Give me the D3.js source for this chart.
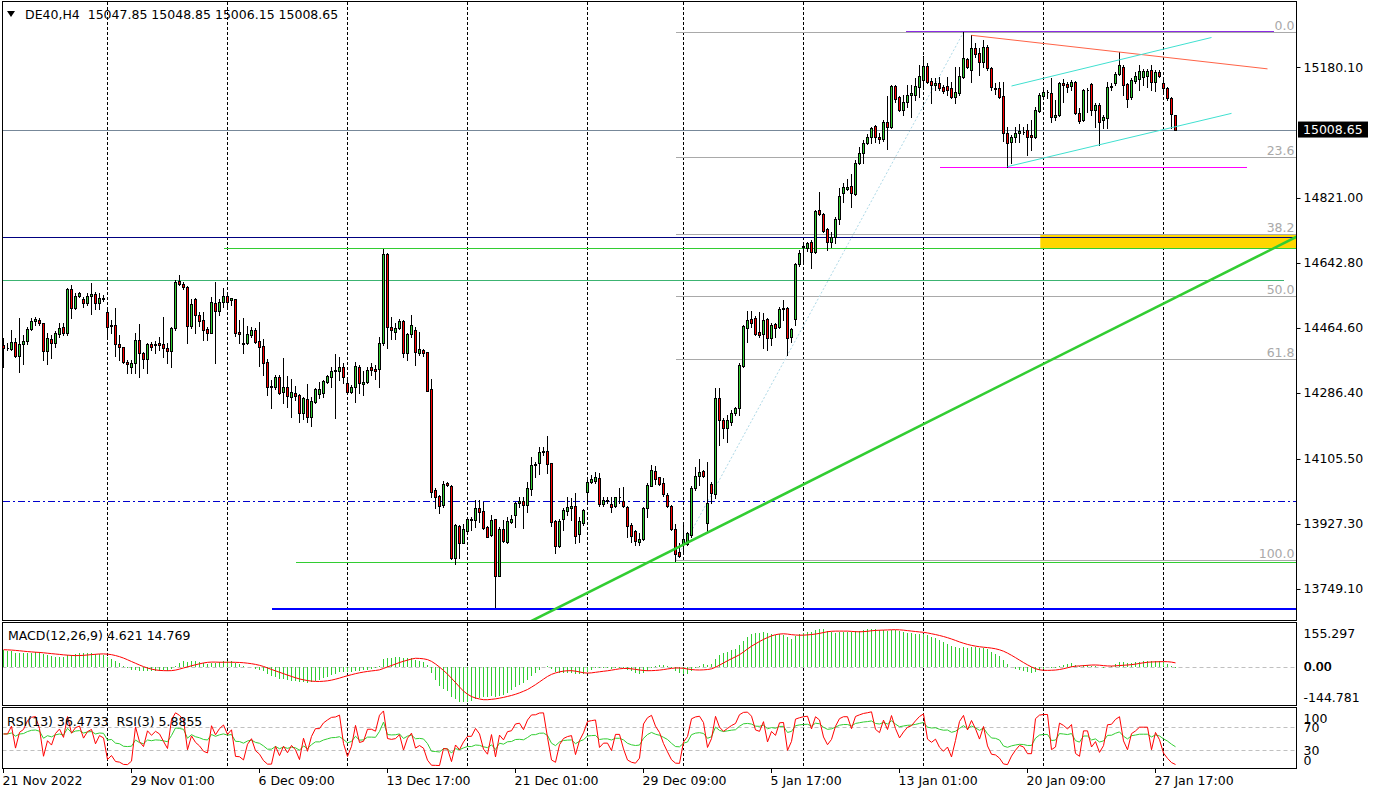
<!DOCTYPE html>
<html><head><meta charset="utf-8">
<script src="https://cdn.jsdelivr.net/npm/d3@7"></script>
<style>
body{margin:0;background:#fff;overflow:hidden}
svg{display:block}
text{font-family:"DejaVu Sans",sans-serif;font-size:12.5px;white-space:pre}
</style></head>
<body><svg id="c" width="1376" height="795"></svg>
<script>
// ---------------- DATA (DE40, H4) ----------------
const opens = [14418,14410,14407,14426,14388,14421,14429,14462,14484,14487,14478,14401,14434,14423,14448,14467,14451,14571,14519,14552,14544,14533,14552,14558,14533,14547,14508,14470,14473,14421,14412,14371,14358,14369,14432,14396,14380,14421,14418,14423,14421,14410,14401,14464,14593,14585,14577,14470,14544,14500,14487,14462,14451,14533,14511,14536,14552,14541,14544,14454,14423,14423,14445,14459,14429,14415,14371,14306,14303,14330,14289,14303,14276,14286,14281,14232,14270,14221,14262,14284,14286,14317,14330,14347,14347,14358,14314,14289,14303,14358,14311,14317,14358,14352,14352,14423,14667,14467,14454,14464,14484,14396,14448,14459,14396,14404,14399,14297,14020,14004,13979,14040,14032,13834,13922,13875,13908,13938,13938,13971,13963,13919,13897,13941,13785,13913,13878,13933,13952,13985,13990,13979,14023,14089,14094,14125,14127,14094,13936,13867,13941,13963,13971,13977,13900,13930,14015,14043,14045,14053,13982,13990,13982,13977,14001,13990,13974,13925,13908,13878,13886,13971,14032,14072,14056,14040,14007,13977,13913,13850,13872,13872,13897,14026,14059,14072,13930,14037,14010,14273,14212,14190,14207,14232,14245,14360,14464,14489,14492,14454,14448,14489,14437,14476,14467,14517,14519,14440,14489,14640,14687,14684,14700,14673,14788,14777,14736,14700,14714,14763,14835,14845,14854,14832,14917,14944,14972,14988,15018,14988,14983,15029,15015,15128,15098,15062,15084,15103,15103,15125,15144,15183,15142,15131,15136,15125,15128,15122,15098,15109,15153,15202,15172,15232,15218,15194,15235,15177,15122,15122,15101,14998,14974,14988,14999,15002,15007,14994,14988,15060,15101,15112,15109,15043,15048,15136,15133,15128,15139,15054,15035,15117,15133,15062,15076,15035,15040,15125,15136,15161,15180,15133,15098,15142,15147,15153,15155,15172,15139,15166,15136,15122,15095,15047.85];
const highs = [14437,14423,14459,14437,14492,14445,14467,14492,14495,14492,14478,14451,14445,14456,14478,14478,14574,14582,14561,14563,14549,14561,14588,14563,14561,14555,14519,14487,14519,14445,14412,14377,14377,14451,14476,14399,14423,14426,14429,14440,14495,14423,14467,14596,14610,14591,14580,14544,14547,14508,14508,14467,14549,14591,14544,14574,14555,14547,14544,14487,14492,14470,14467,14464,14481,14434,14380,14322,14336,14336,14382,14333,14325,14306,14284,14276,14311,14276,14300,14317,14322,14336,14358,14393,14385,14369,14322,14308,14371,14363,14347,14358,14369,14363,14440,14681,14670,14495,14478,14489,14487,14451,14500,14467,14454,14407,14399,14325,14026,14007,14045,14043,14034,13927,13925,13927,13946,13946,13993,13993,13988,13922,13952,13941,13919,13938,13946,13952,13988,14001,14001,14043,14111,14097,14138,14138,14168,14094,13938,13941,13971,14001,13998,14012,13946,13968,14056,14062,14070,14067,14001,14001,14001,14001,14026,14029,13977,13930,13911,13902,13974,14040,14089,14086,14056,14053,14012,13979,13927,13875,13925,13905,14032,14083,14105,14075,14097,14043,14300,14300,14218,14226,14240,14248,14369,14473,14511,14511,14497,14508,14506,14492,14478,14478,14522,14541,14522,14464,14643,14678,14697,14700,14706,14788,14837,14780,14739,14728,14769,14848,14862,14873,14887,14925,14961,14980,14996,15015,15021,14999,15035,15101,15131,15131,15101,15103,15131,15131,15150,15186,15210,15191,15150,15150,15153,15131,15153,15139,15180,15180,15276,15205,15268,15246,15232,15254,15240,15180,15136,15139,15139,15015,14994,15015,15024,15015,15024,15035,15070,15109,15122,15117,15150,15090,15139,15147,15139,15144,15142,15068,15120,15122,15136,15081,15081,15048,15139,15136,15166,15221,15186,15136,15150,15166,15186,15175,15175,15186,15172,15172,15150,15125,15098,15048.85];
const lows = [14358,14404,14404,14385,14344,14366,14421,14459,14473,14473,14377,14366,14382,14412,14440,14445,14445,14492,14517,14549,14522,14528,14503,14517,14517,14539,14440,14451,14388,14377,14369,14341,14341,14341,14330,14355,14341,14404,14396,14404,14385,14369,14358,14459,14582,14571,14423,14464,14451,14470,14432,14432,14451,14369,14500,14522,14522,14528,14443,14423,14396,14421,14440,14423,14360,14336,14281,14245,14297,14284,14259,14248,14221,14267,14207,14215,14207,14196,14259,14273,14276,14314,14303,14218,14322,14314,14286,14286,14262,14286,14281,14314,14336,14325,14303,14418,14410,14434,14434,14462,14385,14377,14440,14363,14391,14388,14292,14001,13971,13957,13974,14032,13831,13818,13834,13875,13902,13911,13919,13933,13913,13891,13894,13700,13785,13878,13875,13930,13919,13974,13916,13960,14007,14056,14064,14116,14067,13922,13848,13864,13911,13952,13938,13875,13878,13925,13988,14040,14040,13977,13977,13985,13960,13974,13985,13974,13891,13878,13870,13870,13883,13946,14032,14037,14034,14004,13974,13911,13826,13837,13850,13870,13891,14020,14034,14056,13905,13985,13998,14144,14163,14152,14199,14226,14226,14358,14426,14467,14445,14440,14410,14404,14418,14440,14464,14487,14391,14426,14473,14634,14646,14676,14629,14670,14775,14728,14678,14687,14698,14750,14810,14843,14796,14829,14914,14917,14969,14972,14974,14972,14977,14955,15013,15084,15060,15048,15070,15043,15090,15098,15125,15136,15081,15117,15117,15109,15103,15095,15081,15103,15150,15177,15139,15207,15158,15180,15172,15117,15106,15095,14977,14906,14917,14974,14974,14996,14939,14953,14985,15057,15098,15095,15029,15035,15046,15084,15112,15117,15051,15027,15032,15057,15048,15016,14966,15013,15013,15117,15131,15158,15103,15070,15092,15136,15117,15131,15125,15117,15114,15153,15112,15090,15013,15006.15];
const closes = [14410,14410,14426,14388,14421,14429,14462,14484,14489,14478,14401,14437,14423,14451,14464,14451,14571,14519,14552,14561,14533,14552,14558,14533,14547,14544,14467,14473,14421,14412,14371,14366,14369,14432,14396,14380,14421,14412,14421,14418,14410,14401,14464,14591,14585,14577,14470,14530,14500,14484,14459,14451,14536,14511,14536,14552,14536,14547,14451,14448,14421,14448,14459,14426,14412,14369,14303,14303,14330,14286,14303,14278,14289,14278,14232,14273,14221,14264,14297,14297,14319,14333,14347,14349,14358,14330,14289,14303,14360,14314,14317,14349,14349,14347,14423,14667,14467,14459,14464,14484,14396,14448,14473,14399,14407,14396,14292,14015,14001,13977,14037,14034,13834,13925,13875,13913,13941,13941,13971,13960,13916,13891,13938,13785,13913,13881,13935,13941,13985,13990,13979,14026,14089,14092,14124,14127,14092,13933,13867,13936,13966,13974,13977,13894,13936,13966,14043,14051,14056,13982,13993,13993,13974,14001,14001,13977,13922,13894,13881,13886,13971,14034,14075,14051,14037,14009,13977,13913,13845,13839,13886,13902,14026,14059,14070,14059,13985,14012,14273,14212,14190,14212,14232,14245,14363,14470,14487,14478,14448,14445,14487,14437,14473,14464,14517,14519,14437,14462,14640,14670,14689,14697,14673,14785,14777,14730,14700,14714,14763,14826,14851,14851,14835,14917,14944,14972,14988,15013,14988,14983,15029,15015,15128,15092,15062,15084,15103,15109,15128,15155,15183,15139,15131,15136,15122,15114,15117,15098,15112,15155,15205,15180,15232,15216,15194,15235,15177,15125,15120,15098,14998,14972,14988,14998,15005,15002,14988,14988,15062,15103,15112,15112,15043,15048,15136,15131,15125,15139,15054,15032,15117,15117,15062,15076,15029,15043,15125,15128,15161,15186,15131,15092,15144,15155,15169,15169,15169,15139,15166,15155,15122,15095,15051,15008.65];

// time axis (bar index -> label) and weekly separators
const timeTickBars   = [0, 32, 64, 96, 128, 160, 192, 224, 256, 288];
const timeTickLabels = ["21 Nov 2022","29 Nov 01:00","6 Dec 09:00","13 Dec 17:00","21 Dec 01:00","29 Dec 09:00","5 Jan 17:00","13 Jan 01:00","20 Jan 09:00","27 Jan 17:00"];
const separatorBars  = [26, 56, 86, 116, 146, 170, 200, 230, 260, 290];
const priceTicks     = [15180.10, 14821.00, 14642.80, 14464.60, 14286.40, 14105.50, 13927.30, 13749.10];
const macdTicks      = [155.297, 0, -144.781];
const rsiTicks       = [100, 70, 30, 0];
const rsiLevels      = [70, 30];

// indicator state at the first visible bar
const macdWarmup = {ema12: 14380, ema26: 14316, signal: 64};
const rsiWarmup  = {gain: 22, loss: 16};

// chart objects
const fibHigh   = {bar: 240, price: 15275.3};
const fibLow    = {bar: 168, price: 13827.5};
const fibLevels = [0, 23.6, 38.2, 50, 61.8, 100];
const hLevels = [
  {name:"navy",     price:14713,  from:null, to:null, color:"#000080", w:1},
  {name:"lime1",    price:14684,  from:55,   to:null, color:"#32CD32", w:1},
  {name:"seagreen", price:14596,  from:null, to:320,  color:"#3CB371", w:1},
  {name:"lime2",    price:13822,  from:73,   to:null, color:"#32CD32", w:1},
  {name:"blue",     price:13697,  from:67,   to:null, color:"#0000FF", w:2},
  {name:"dashdot",  price:13990,  from:null, to:null, color:"#0000CD", w:1, dash:"7,3,2,3"},
  {name:"magenta",  price:14906,  from:234.2,to:310.9,color:"#FF00FF", w:1},
  {name:"purple",   price:15279,  from:225.5,to:317.5,color:"#8A2BE2", w:1}
];
const yellowZone = {fromBar: 259.2, top: 14722, bottom: 14684};
const trendLines = [
  {pts:[{bar:133, price:13667},{bar:293, price:14548}], color:"#32CD32", w:2.6, extend:true},
  {pts:[{bar:242, price:15267},{bar:316, price:15175}], color:"#FF6347", w:1},
  {pts:[{bar:252, price:15128},{bar:302, price:15261}], color:"#40E0D0", w:1},
  {pts:[{bar:251, price:14907},{bar:307, price:15053}], color:"#40E0D0", w:1}
];
const header = {symbol:"DE40,H4", values:["15047.85","15048.85","15006.15","15008.65"]};
const macdTitle = "MACD(12,26,9) 4.621 14.769";
const rsiTitle  = "RSI(13) 36.4733  RSI(3) 5.8855";

// ---------------- LAYOUT ----------------
const L = 2.5, R = 1296.5;
const P = {main:{top:1.5,bottom:620.5}, macd:{top:622.5,bottom:705.5}, rsi:{top:707.5,bottom:768.5}};
const N = closes.length;
const x = d3.scaleLinear().domain([0, N-1]).range([3.5, 3.5 + 4*(N-1)]);
const yMain = d3.scaleLinear().domain([13754.5, 15180.1]).range([587, 67]);
const yMacd = d3.scaleLinear().domain([-144.781, 155.297]).range([706, 625]);
const yRsi  = d3.scaleLinear().domain([0, 100]).range([767.25, 709.75]);
const fmt2 = d3.format(".2f"), fmt3 = d3.format(".3f");
const ascii = s => s.replace("\u2212","-");

const svg = d3.select("#c");
const defs = svg.append("defs");
Object.entries(P).forEach(([k,p])=>{
  defs.append("clipPath").attr("id","clip-"+k).append("rect")
    .attr("x",L).attr("y",p.top).attr("width",R-L).attr("height",p.bottom-p.top);
});
svg.append("rect").attr("width",1376).attr("height",795).attr("fill","#fff");

// separators
Object.entries(P).forEach(([k,p])=>{
  svg.append("g").attr("clip-path",`url(#clip-${k})`).selectAll("line").data(separatorBars).join("line")
    .attr("x1",d=>x(d)).attr("x2",d=>x(d)).attr("y1",p.top).attr("y2",p.bottom)
    .attr("stroke","#000").attr("stroke-dasharray","3,2").attr("shape-rendering","crispEdges");
});

const gMain = svg.append("g").attr("clip-path","url(#clip-main)");

// yellow zone
gMain.append("rect").attr("x",x(yellowZone.fromBar)).attr("y",yMain(yellowZone.top))
  .attr("width",R - x(yellowZone.fromBar)).attr("height",yMain(yellowZone.bottom)-yMain(yellowZone.top))
  .attr("fill","#FFD700");

// fibonacci
const fibPrice = l => fibHigh.price - (fibHigh.price - fibLow.price)*l/100;
const fy = l => Math.round(yMain(fibPrice(l)))+0.5;
gMain.selectAll(".fib").data(fibLevels).join("line").attr("class","fib")
  .attr("x1",x(fibLow.bar)).attr("x2",R).attr("y1",fy).attr("y2",fy)
  .attr("stroke","#A9A9A9").attr("shape-rendering","crispEdges");
gMain.selectAll(".fibt").data(fibLevels).join("text").attr("class","fibt")
  .attr("x",R-2).attr("y",d=>fy(d)-3).attr("text-anchor","end").attr("fill","#A9A9A9")
  .text(d=>d.toFixed(1));
gMain.append("line").attr("x1",x(fibLow.bar)).attr("y1",yMain(fibLow.price))
  .attr("x2",x(fibHigh.bar)).attr("y2",yMain(fibHigh.price))
  .attr("stroke","#ADD8E6").attr("stroke-dasharray","2,2");

// horizontal levels
const hy = p => Math.round(yMain(p))+0.5;
gMain.selectAll(".hl").data(hLevels).join("line").attr("class","hl")
  .attr("x1",d=>d.from==null?L:x(d.from)).attr("x2",d=>d.to==null?R:x(d.to))
  .attr("y1",d=>hy(d.price)).attr("y2",d=>hy(d.price))
  .attr("stroke",d=>d.color).attr("stroke-width",d=>d.w)
  .attr("stroke-dasharray",d=>d.dash||null).attr("shape-rendering","crispEdges");

// current price line
const last = closes[N-1];
gMain.append("line").attr("x1",L).attr("x2",R).attr("y1",hy(last)).attr("y2",hy(last))
  .attr("stroke","#778899").attr("shape-rendering","crispEdges");

// candles
const cg = gMain.append("g").attr("shape-rendering","crispEdges");
const idx = d3.range(N);
cg.selectAll(".wick").data(idx).join("line").attr("class","wick")
  .attr("x1",i=>x(i)).attr("x2",i=>x(i))
  .attr("y1",i=>Math.round(yMain(highs[i]))).attr("y2",i=>Math.round(yMain(lows[i]))+1)
  .attr("stroke","#000");
cg.selectAll(".body").data(idx).join("path").attr("class","body")
  .attr("d",i=>{
    const a = Math.round(yMain(Math.max(opens[i],closes[i])))+0.5;
    const b = Math.round(yMain(Math.min(opens[i],closes[i])))+0.5;
    const x0 = x(i)-1, x1 = x(i)+1;
    return `M${x0},${a}H${x1}V${b}H${x0}Z`;
  })
  .attr("fill",i=>closes[i]>=opens[i]?"#32CD32":"#FF0000")
  .attr("stroke","#000");

// trend lines
trendLines.forEach(t=>{
  let [p0,p1] = t.pts;
  let x0 = x(p0.bar), y0 = yMain(p0.price), x1 = x(p1.bar), y1 = yMain(p1.price);
  if (t.extend){
    const s = (y1-y0)/(x1-x0);
    const xs = x0 - 60, xe = R + 2;
    y0 = y0 + s*(xs-x0); x0 = xs;
    y1 = y0 + s*(xe-x0); x1 = xe;
  }
  gMain.append("line").attr("x1",x0).attr("y1",y0).attr("x2",x1).attr("y2",y1)
    .attr("stroke",t.color).attr("stroke-width",t.w);
});

// ---------------- INDICATORS ----------------
const k12 = 2/13, k26 = 2/27;
let e12 = macdWarmup.ema12, e26 = macdWarmup.ema26;
const macd = closes.map(c=>{ e12 += k12*(c-e12); e26 += k26*(c-e26); return e12-e26; });
const macdHist = d3.range(8).map(()=>macdWarmup.signal).concat(macd);
const signal = macd.map((v,i)=>d3.mean(macdHist.slice(i, i+9)));

function rsi(n){
  let g = rsiWarmup.gain, l = rsiWarmup.loss;
  return closes.map((c,i)=>{
    const ch = i===0 ? 0 : c - closes[i-1];
    g = (g*(n-1) + Math.max(ch,0))/n;
    l = (l*(n-1) + Math.max(-ch,0))/n;
    return l===0 ? 100 : 100 - 100/(1+g/l);
  });
}
const rsi13 = rsi(13), rsi3 = rsi(3);

// MACD panel
const gM = svg.append("g").attr("clip-path","url(#clip-macd)");
gM.append("line").attr("x1",L).attr("x2",R).attr("y1",Math.round(yMacd(0))+0.5).attr("y2",Math.round(yMacd(0))+0.5)
  .attr("stroke","#C0C0C0").attr("stroke-dasharray","4,3");
gM.selectAll(".h").data(idx).join("line").attr("class","h")
  .attr("x1",i=>x(i)).attr("x2",i=>x(i)).attr("y1",yMacd(0)).attr("y2",i=>yMacd(macd[i]))
  .attr("stroke","#32CD32").attr("shape-rendering","crispEdges");
gM.append("path").datum(signal).attr("fill","none").attr("stroke","#FF0000")
  .attr("d",d3.line().x((d,i)=>x(i)).y(d=>yMacd(d)));

// RSI panel
const gR = svg.append("g").attr("clip-path","url(#clip-rsi)");
gR.selectAll(".lv").data(rsiLevels).join("line").attr("class","lv")
  .attr("x1",L).attr("x2",R).attr("y1",d=>Math.round(yRsi(d))+0.5).attr("y2",d=>Math.round(yRsi(d))+0.5)
  .attr("stroke","#C0C0C0").attr("stroke-dasharray","4,3");
gR.append("path").datum(rsi13).attr("fill","none").attr("stroke","#32CD32")
  .attr("d",d3.line().x((d,i)=>x(i)).y(d=>yRsi(d)));
gR.append("path").datum(rsi3).attr("fill","none").attr("stroke","#FF0000")
  .attr("d",d3.line().x((d,i)=>x(i)).y(d=>yRsi(d)));

// frames
Object.values(P).forEach(p=>{
  svg.append("rect").attr("x",L).attr("y",p.top).attr("width",R-L).attr("height",p.bottom-p.top)
    .attr("fill","none").attr("stroke","#000").attr("shape-rendering","crispEdges");
});

// price axis
const ax = svg.append("g").attr("transform",`translate(${R},0)`)
  .call(d3.axisRight(yMain).tickValues(priceTicks).tickSize(4).tickPadding(3).tickFormat(fmt2));
ax.select(".domain").remove();
ax.selectAll("text").attr("font-family","DejaVu Sans").attr("font-size","12.5px").attr("fill","#000");
ax.selectAll("line").attr("stroke","#000");

// current price box
const by = yMain(last);
svg.append("rect").attr("x",R+1.5).attr("y",by-8).attr("width",70).attr("height",16).attr("fill","#000");
svg.append("text").attr("x",R+6.5).attr("y",by).attr("dy","0.36em").attr("fill","#fff").text(fmt2(last));

// MACD / RSI axis labels
const clampY = (v,p)=>Math.max(p.top+11, Math.min(p.bottom-8.5, v));
svg.selectAll(".mt").data(macdTicks).join("text").attr("class","mt")
  .attr("x",R+7).attr("y",d=>clampY(yMacd(d),P.macd)).attr("dy","0.36em")
  .text(d=>d===0?"0.00":ascii(fmt3(d)));
svg.append("text").attr("x",R+7.6).attr("y",clampY(yMacd(0),P.macd)).attr("dy","0.36em").text("0.00");
svg.selectAll(".rt").data(rsiTicks).join("text").attr("class","rt")
  .attr("x",R+7).attr("y",d=>clampY(yRsi(d),P.rsi)).attr("dy","0.36em").text(d=>d);

// time axis
svg.selectAll(".tt").data(timeTickBars).join("line").attr("class","tt")
  .attr("x1",d=>x(d)).attr("x2",d=>x(d)).attr("y1",P.rsi.bottom).attr("y2",P.rsi.bottom+4)
  .attr("stroke","#000").attr("shape-rendering","crispEdges");
svg.selectAll(".tl").data(timeTickBars).join("text").attr("class","tl")
  .attr("x",d=>x(d)-1).attr("y",785).text((d,i)=>timeTickLabels[i]);

// titles
svg.append("path").attr("d","M7,11L15,11L11,17Z").attr("fill","#000");
svg.append("text").attr("x",25).attr("y",18.5).text(header.symbol+"  "+header.values.join(" "));
svg.append("text").attr("x",8).attr("y",640).text(macdTitle);
svg.append("text").attr("x",7).attr("y",726).text(rsiTitle);
</script>
</body></html>
